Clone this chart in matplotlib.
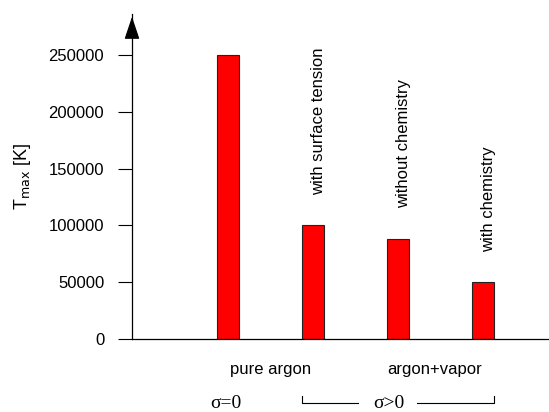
import matplotlib
matplotlib.use('Agg')
import matplotlib.pyplot as plt

# data
cases = ['pure argon', 'with surface tension', 'without chemistry', 'with chemistry']
tmax = [250000, 100000, 88000, 50000]
yticks = [0, 50000, 100000, 150000, 200000, 250000]
group_labels = ['pure argon', 'argon+vapor']
sigma_labels = ['σ=0', 'σ>0']

plt.rcParams['font.family'] = ['Liberation Sans', 'DejaVu Sans']

fig = plt.figure(figsize=(5.49, 4.12), dpi=100)
ax = fig.add_axes([132/549, 1 - 339/412, 1 - 132/549, 325/412])

xpos = [1, 2, 3, 4]
width = 0.26
ax.bar(xpos, tmax, width=width, color='#ff0000', edgecolor='#222222', linewidth=0.8)

ax.set_xlim(-0.129, 4.776)
ax.set_ylim(0, 286100)
ax.set_yticks(yticks)
ax.set_yticklabels([str(v) for v in yticks], fontsize=12)
ax.tick_params(axis='y', direction='out', length=10, width=0.8, pad=10)
ax.set_xticks([])
ax.set_ylabel('T$_{\\mathrm{max}}$ [K]', fontsize=13, labelpad=11)

for side in ['top', 'right']:
    ax.spines[side].set_visible(False)
ax.spines['left'].set_linewidth(0.9)
ax.spines['bottom'].set_linewidth(0.9)

# arrow head on the y axis
ax.annotate('', xy=(0, 1.0), xytext=(0, 0.94), xycoords='axes fraction',
            arrowprops=dict(arrowstyle='-|>,head_length=1.4,head_width=0.47',
                            color='black', lw=0.9, mutation_scale=10))

# rotated labels over bars 2..4
for x, v, name in zip(xpos[1:], tmax[1:], cases[1:]):
    ax.annotate(name, xy=(x + 0.07, v), xytext=(0, 22), textcoords='offset points',
                rotation=90, ha='center', va='bottom', fontsize=12)

# group labels below axis
for x, lab in zip([1.5, 3.43], group_labels):
    ax.annotate(lab, xy=(x, 0), xytext=(0, -22), textcoords='offset points',
                ha='center', va='center', fontsize=12, annotation_clip=False)

serif = ['Liberation Serif', 'DejaVu Serif']
for x, lab in zip([0.98, 2.89], sigma_labels):
    ax.annotate(lab, xy=(x, 0), xytext=(0, -50), textcoords='offset points',
                ha='center', va='baseline', fontsize=14, family=serif,
                annotation_clip=False)

# bracket under the sigma>0 cases
trans = ax.get_xaxis_transform()
yb = -64 / 325
ye = -57 / 325
ax.plot([1.87, 1.87, 2.53], [ye, yb, yb], color='black', lw=0.8, transform=trans, clip_on=False)
ax.plot([3.22, 4.13, 4.13], [yb, yb, ye], color='black', lw=0.8, transform=trans, clip_on=False)

fig.savefig('out.png', dpi=100)
